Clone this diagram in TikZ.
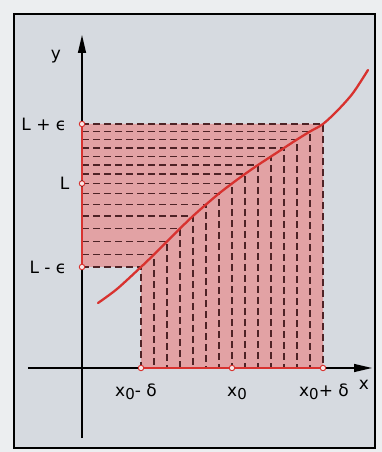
\documentclass[tikz,border=0pt]{standalone}
\usepackage{fontspec}
\setmainfont{DejaVu Sans}
\usepackage{xcolor}
\usepackage{tikz}
\usetikzlibrary{arrows.meta}
\definecolor{paper}{HTML}{D6DAE0}
\definecolor{margin}{HTML}{ECEEF0}
\definecolor{curvered}{HTML}{D8322F}
\definecolor{bandpink}{HTML}{E2A2A4}
\definecolor{hatchbrown}{HTML}{4E2326}
\tikzstyle{axis} = [-{Triangle[length=18pt,width=8pt]}, line width=1.4pt]
\tikzstyle{hatch} = [hatchbrown, line width=1.3pt, dash pattern=on 7pt off 4pt]
\tikzstyle{endpt} = [circle, draw=curvered, fill=white!75!bandpink, line width=0.9pt, inner sep=0pt, minimum size=5.5pt]
\newcommand{\xsub}{x\raisebox{-3.5pt}{\fontsize{15}{15}\selectfont 0}}

\begin{document}
\begin{tikzpicture}[x=1pt,y=1pt,font=\fontsize{17}{20}\selectfont]
\useasboundingbox (-82,-84) rectangle (300,368);
\fill[margin] (-82,-84) rectangle (300,368);
\draw[line width=1.6pt, fill=paper] (-68,-80) rectangle (293,354);
% band of x values and of y values
\fill[bandpink] (0,101) -- (0,244) -- (241,244) -- (241,0) -- (59,0) -- (59,101) -- cycle;
\foreach \yv [count=\i from 0] in {101,113.5,126.5,139.5,152,163.5,174.5,184.5,194,203,211.5,220,228.5,236.5,244}
  \draw[hatch] (0,\yv) -| ({59+13*\i},0);
% axes
\coordinate (ybot) at (0,-70);
\coordinate (ytop) at (0,333);
\coordinate (xleft) at (-54,0);
\coordinate (xright) at (290,0);
\draw[axis] (ybot) -- (ytop);
\draw[axis] (xleft) -- (xright);
\draw[curvered, line width=2.3pt, line cap=round] plot[smooth] coordinates {(16,65) (35,79) (59,101) (72,113.5) (85,126.5) (98,139.5) (111,152) (124,163.5) (137,174.5) (150,184.5) (163,194) (176,203) (189,211.5) (202,220) (215,228.5) (228,236.5) (241,244) (256,258) (271,275) (286,298)};
% end points on the axes
\node[endpt] (lm) at (0,101) {};
\node[endpt] (l) at (0,184.5) {};
\node[endpt] (lp) at (0,244) {};
\node[endpt] (xm) at (59,0) {};
\node[endpt] (x) at (150,0) {};
\node[endpt] (xp) at (241,0) {};
\draw[curvered, line width=2.6pt] (lm) -- (l) -- (lp);
\draw[curvered, line width=2.6pt] (xm) -- (x) -- (xp);
% labels
\node (ylab) at (-26,311) {y};
\node[anchor=base] (xlab) at (282,-21) {x};
\node[anchor=east] (lplab) at (-12,244) {L + ϵ};
\node[anchor=east] (llab) at (-9,184.5) {L};
\node[anchor=east] (lmlab) at (-12,101) {L - ϵ};
\node[anchor=base] (xmlab) at (54,-28) {\xsub- δ};
\node[anchor=base] (xlab0) at (155,-28) {\xsub};
\node[anchor=base] (xplab) at (242,-28) {\xsub+ δ};
\end{tikzpicture}
\end{document}
